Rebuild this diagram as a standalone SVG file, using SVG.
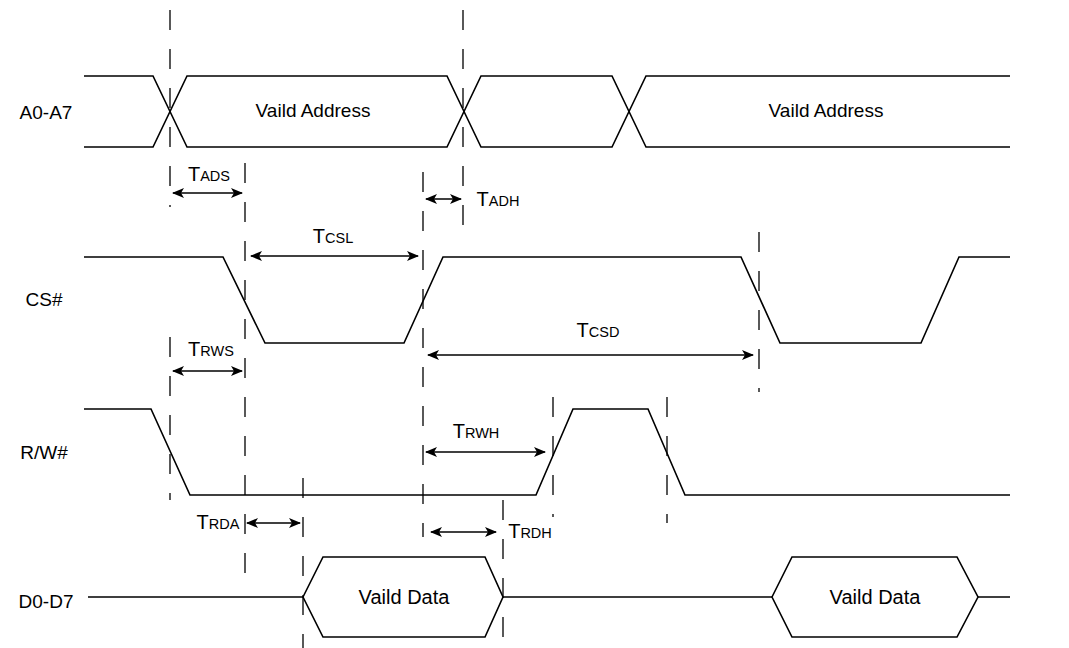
<svg xmlns="http://www.w3.org/2000/svg" width="1069" height="648" viewBox="0 0 1069 648">
<defs>
<marker id="ah" viewBox="0 0 12 10" refX="11" refY="5" markerWidth="12" markerHeight="10" markerUnits="userSpaceOnUse" orient="auto-start-reverse">
<path d="M0,0 L12,5 L0,10 L3,5 Z" fill="#000"/>
</marker>
<style>
.sig{fill:none;stroke:#000;stroke-width:1.6;stroke-linejoin:miter}
.dash{stroke:#000;stroke-width:1.3;stroke-dasharray:20 19;fill:none}
.dim{stroke:#000;stroke-width:1.5;fill:none;marker-start:url(#ah);marker-end:url(#ah)}
.lbl{font-family:"Liberation Sans",Arial,sans-serif;font-size:19px;fill:#000;text-anchor:middle}
.val{font-family:"Liberation Sans",Arial,sans-serif;font-size:19px;fill:#000;text-anchor:middle}
.tl{font-family:"Liberation Sans",Arial,sans-serif;font-size:20px;fill:#000;text-anchor:middle}
.sub{font-size:14.5px}
</style>
</defs>
<rect width="1069" height="648" fill="#fff"/>

<g id="A0-A7">
<text class="lbl" x="46" y="119">A0-A7</text>
<path class="sig" d="M84,76 H153 L187,147 H447 L481,76 H612 L646,147 H1010"/>
<path class="sig" d="M84,147 H153 L187,76 H447 L481,147 H612 L646,76 H1010"/>
<text class="val" x="313" y="117">Vaild Address</text>
<text class="val" x="826" y="117">Vaild Address</text>
</g>

<g id="CS">
<text class="lbl" x="44" y="306">CS#</text>
<path class="sig" d="M84,257 H223 L265,343 H404 L443,257 H741 L780,343 H921 L959,257 H1010"/>
</g>

<g id="RW">
<text class="lbl" x="44" y="459">R/W#</text>
<path class="sig" d="M84,409 H151 L190,495 H536 L573,409 H648 L685,495 H1010"/>
</g>

<g id="D0-D7">
<text class="lbl" x="46" y="608">D0-D7</text>
<path class="sig" d="M88,597 H303 M503,597 H772 M978,597 H1010"/>
<path class="sig" d="M303,597 L323,557 H485 L503,597 L485,637 H323 Z"/>
<path class="sig" d="M772,597 L792,557 H957 L978,597 L957,637 H792 Z"/>
<text class="val" x="404" y="604" style="font-size:20px">Vaild Data</text>
<text class="val" x="875" y="604" style="font-size:20px">Vaild Data</text>
</g>

<g id="guides">
<line class="dash" x1="170" y1="10" x2="170" y2="207"/>
<line class="dash" x1="170" y1="337" x2="170" y2="500"/>
<line class="dash" x1="245" y1="163" x2="245" y2="579"/>
<line class="dash" x1="303" y1="478" x2="303" y2="648"/>
<line class="dash" x1="423" y1="172" x2="423" y2="537"/>
<line class="dash" x1="463" y1="10" x2="463" y2="237"/>
<line class="dash" x1="503" y1="500" x2="503" y2="648"/>
<line class="dash" x1="553" y1="397" x2="553" y2="517"/>
<line class="dash" x1="667" y1="397" x2="667" y2="523"/>
<line class="dash" x1="759" y1="232" x2="759" y2="392"/>
</g>

<g id="connectors">
<line class="dim" x1="173" y1="193" x2="242" y2="193"/>
<line class="dim" x1="426" y1="199" x2="461" y2="199"/>
<line class="dim" x1="251" y1="256" x2="418" y2="256"/>
<line class="dim" x1="428" y1="355" x2="753" y2="355"/>
<line class="dim" x1="173" y1="371" x2="242" y2="371"/>
<line class="dim" x1="426" y1="452" x2="545" y2="452"/>
<line class="dim" x1="247" y1="523" x2="300" y2="523"/>
<line class="dim" x1="431" y1="532" x2="496" y2="532"/>
</g>

<g id="timing-labels">
<text class="tl" x="209" y="181">T<tspan class="sub">ADS</tspan></text>
<text class="tl" x="498" y="206">T<tspan class="sub">ADH</tspan></text>
<text class="tl" x="333" y="243">T<tspan class="sub">CSL</tspan></text>
<text class="tl" x="598" y="337">T<tspan class="sub">CSD</tspan></text>
<text class="tl" x="211" y="356">T<tspan class="sub">RWS</tspan></text>
<text class="tl" x="476" y="438">T<tspan class="sub">RWH</tspan></text>
<text class="tl" x="218" y="529">T<tspan class="sub">RDA</tspan></text>
<text class="tl" x="530" y="538">T<tspan class="sub">RDH</tspan></text>
</g>
</svg>
